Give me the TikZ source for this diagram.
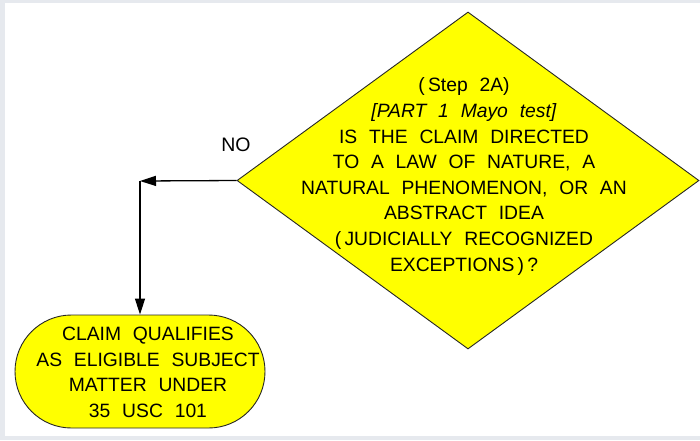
\documentclass[tikz,border=0pt]{standalone}
\usepackage{fontspec}
\setmainfont{Liberation Sans}[WordSpace=2.2]
\usetikzlibrary{shapes.geometric,shapes.misc,arrows.meta}
\definecolor{framegray}{HTML}{E6E9EE}
\definecolor{boxyellow}{HTML}{FFFF00}
\begin{document}
\begin{tikzpicture}[x=1pt,y=-1pt,
  decision/.style={diamond, draw=black!85, line width=0.9pt, fill=boxyellow,
    minimum width=462pt, minimum height=337pt, inner sep=0pt},
  terminal/.style={rounded rectangle, draw=black!85, line width=0.9pt, fill=boxyellow,
    minimum width=250pt, minimum height=113pt, inner sep=0pt},
  boxtext/.style={align=center, font=\fontsize{19.3}{25.6}\selectfont, inner sep=0pt},
  flow/.style={line width=1.3pt, -{Triangle[length=16pt,width=10pt]}}
]
\fill[framegray] (0,0) rectangle (700,440);
\fill[white] (5,3) rectangle (700,436);
\useasboundingbox (0,0) rectangle (700,440);
\node[decision] (d) at (468,180.5) {};
\node[boxtext] (dt) at (464,176.5) {(\,Step 2A)\\
  \textit{[PART 1 Mayo test]}\\
  IS THE CLAIM DIRECTED\\
  TO A LAW OF NATURE, A\\
  NATURAL PHENOMENON, OR AN\\
  ABSTRACT IDEA\\
  (\,JUDICIALLY RECOGNIZED\\
  EXCEPTIONS\,)\,?};
\node[terminal] (s) at (140,371.5) {};
\node[boxtext] (st) at (148,372.5) {CLAIM QUALIFIES\\
  AS ELIGIBLE SUBJECT\\
  MATTER UNDER\\
  35 USC 101};
\coordinate (c) at (140,181);
\draw[flow] (d.west) -- (c);
\draw[flow] (c) -- (s.north);
\node[font=\fontsize{19.5}{22}\selectfont, inner sep=0pt] (no) at (236,145) {NO};
\end{tikzpicture}
\end{document}
